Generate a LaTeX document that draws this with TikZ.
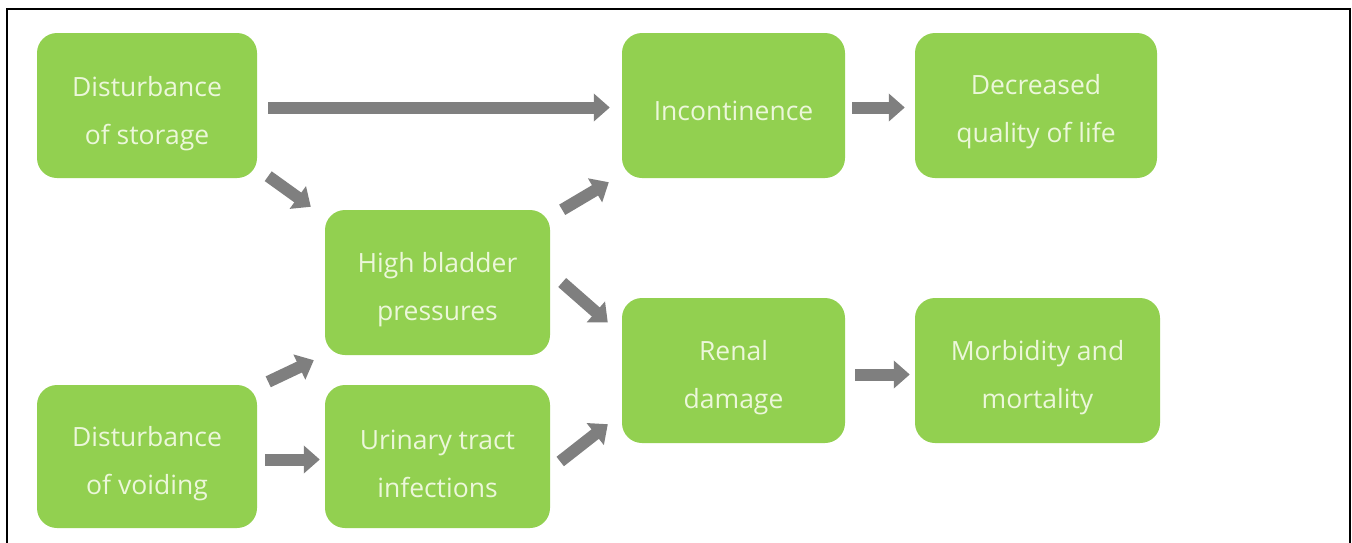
\documentclass[tikz,border=0pt]{standalone}
\usepackage{fontspec}
\setmainfont{Open Sans}
\usetikzlibrary{arrows.meta}
\definecolor{boxgreen}{RGB}{146,208,80}
\definecolor{txtcol}{RGB}{236,247,218}
\definecolor{arrgray}{RGB}{127,127,127}
\begin{document}
\begin{tikzpicture}[x=1pt,y=-1pt,
  box/.style={fill=boxgreen, rounded corners=20pt, inner sep=0pt, minimum height=145pt},
  lbl/.style={text=txtcol, align=center, font=\fontsize{26.5}{48}\selectfont, inner sep=0pt},
  arr/.style={draw=arrgray, line width=12pt, -{Triangle[width=27pt,length=16pt]}}]
\useasboundingbox (0,0) rectangle (1352,542);
\begin{scope}
\clip (0,0) rectangle (1352,542);
\draw[line width=2.5pt] (7,600) -- (7,9) -- (1350,9) -- (1350,600);
\end{scope}
% boxes
\node[box, minimum width=220pt] (DS) at (147,105.5) {};
\node[box, minimum width=220pt, minimum height=143pt] (DV) at (147,456.5) {};
\node[box, minimum width=225pt] (HBP) at (437.5,282.5) {};
\node[box, minimum width=225pt, minimum height=143pt] (UTI) at (437.5,456.5) {};
\node[box, minimum width=223pt] (Inc) at (733.5,105.5) {};
\node[box, minimum width=242pt] (Dec) at (1036,105.5) {};
\node[box, minimum width=223pt] (Ren) at (733.5,370.5) {};
\node[box, minimum width=245pt] (Mor) at (1037.5,370.5) {};
% texts
\node[lbl] (DSt) at ([yshift=-8pt]DS.center) {Disturbance\\of storage};
\node[lbl] (DVt) at ([yshift=-7pt]DV.center) {Disturbance\\of voiding};
\node[lbl] (HBPt) at ([yshift=-7pt]HBP.center) {High bladder\\pressures};
\node[lbl] (UTIt) at ([yshift=-7pt]UTI.center) {Urinary tract\\infections};
\node[lbl] (Inct) at ([yshift=-5pt]Inc.center) {Incontinence};
\node[lbl] (Dect) at ([yshift=-6pt]Dec.center) {Decreased\\quality of life};
\node[lbl] (Rent) at ([yshift=-7pt]Ren.center) {Renal\\damage};
\node[lbl] (Mort) at ([yshift=-7pt]Mor.center) {Morbidity and\\mortality};
% arrows
\draw[arr, shorten <=11pt, shorten >=12pt] ([yshift=-2pt]DS.east) -- ([yshift=-2pt]Inc.west);
\draw[arr, shorten <=7pt, shorten >=10pt] ([yshift=-2pt]Inc.east) -- ([yshift=-2pt]Dec.west);
\draw[arr, shorten <=8pt, shorten >=5pt] ([yshift=-3pt]DV.east) -- ([yshift=-3pt]UTI.west);
\draw[arr, shorten <=10pt, shorten >=5pt] ([yshift=-4pt]Ren.east) -- ([yshift=-4pt]Mor.west);
\draw[arr] ([shift={(11,-2)}]DS.south east) -- ([shift={(-14,-3)}]HBP.north west);
\draw[arr] ([shift={(11,-3)}]DV.north east) -- ([shift={(-11,5)}]HBP.south west);
\draw[arr] ([shift={(12,0)}]HBP.north east) -- ([shift={(-13,4)}]Inc.south west);
\draw[arr] ([shift={(12,0)}]HBP.east) -- ([shift={(-14,-48)}]Ren.west);
\draw[arr] ([shift={(10,5)}]UTI.east) -- ([shift={(-14,-19)}]Ren.south west);
\end{tikzpicture}
\end{document}
